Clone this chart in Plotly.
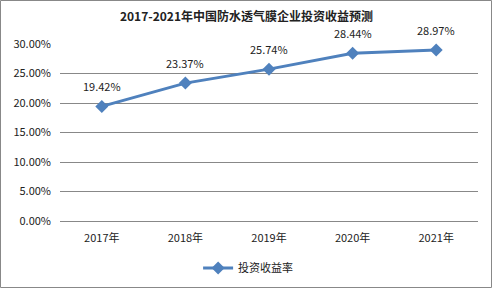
import plotly.graph_objects as go

years = ["2017年", "2018年", "2019年", "2020年", "2021年"]
rates = [19.42, 23.37, 25.74, 28.44, 28.97]
labels = ["19.42%", "23.37%", "25.74%", "28.44%", "28.97%"]
tick_vals = [0, 5, 10, 15, 20, 25, 30]
tick_text = ["0.00%", "5.00%", "10.00%", "15.00%", "20.00%", "25.00%", "30.00%"]

W, H = 493, 289
ml, mr, mt, mb = 60, 15, 44, 68
pw, ph = W - ml - mr, H - mt - mb

fig = go.Figure()
fig.add_trace(go.Scatter(
    x=years, y=rates, mode="lines+markers", name="投资收益率",
    line=dict(color="#4F81BD", width=3),
    marker=dict(symbol="diamond", size=10, color="#4F81BD"),
    cliponaxis=False,
))
for xv, yv, t in zip(years, rates, labels):
    fig.add_annotation(x=xv, y=yv, text=t, showarrow=False, yshift=20,
                       font=dict(size=11, color="#222"))

fig.update_layout(
    width=W, height=H,
    margin=dict(l=ml, r=mr, t=mt, b=mb, autoexpand=False),
    paper_bgcolor="white", plot_bgcolor="white",
    font=dict(family="Noto Sans CJK SC, DejaVu Sans", size=11, color="#222"),
    title=dict(text="<b>2017-2021年中国防水透气膜企业投资收益预测</b>",
               x=0.5, xanchor="center", y=1 - 17 / H, yanchor="middle",
               font=dict(size=12, color="#222")),
    xaxis=dict(range=[-0.5, 4.5], showgrid=False, showline=True, linecolor="#888",
               ticks="", tickfont=dict(size=11), automargin=False,
               ticklabelstandoff=7),
    yaxis=dict(range=[0, 30], tickvals=tick_vals, ticktext=tick_text,
               showgrid=True, gridcolor="#888", gridwidth=1, zeroline=False,
               showline=False, tickfont=dict(size=11), ticklabelstandoff=8,
               automargin=False),
    showlegend=True,
    legend=dict(orientation="h", x=0.45, xanchor="center",
                yref="container", y=1 - 268 / H, yanchor="middle",
                font=dict(size=11)),
    shapes=[dict(type="rect", xref="paper", yref="paper",
                 x0=-ml / pw + 0.5 / pw, x1=1 + (mr - 1.5) / pw,
                 y0=-(mb - 1.5) / ph, y1=1 + (mt - 0.5) / ph,
                 line=dict(color="#888", width=1))],
)

fig.write_html("out.html")
